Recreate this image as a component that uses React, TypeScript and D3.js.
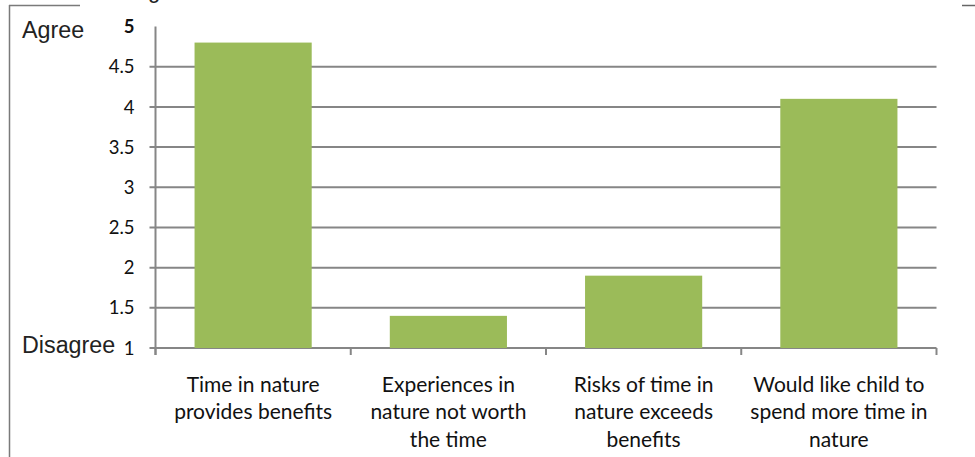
import React from "react";
import * as d3 from "d3";

const categories: string[][] = [
  ["Time in nature", "provides benefits"],
  ["Experiences in", "nature not worth", "the time"],
  ["Risks of time in", "nature exceeds", "benefits"],
  ["Would like child to", "spend more time in", "nature"],
];
const values: number[] = [4.8, 1.4, 1.9, 4.1];
const yTicks: number[] = [1, 1.5, 2, 2.5, 3, 3.5, 4, 4.5, 5];
const yTickLabels: string[] = ["1", "1.5", "2", "2.5", "3", "3.5", "4", "4.5", "5"];
const topLabel = "Agree";
const bottomLabel = "Disagree";

const W = 975;
const H = 457;
const left = 155.5;
const right = 936.5;
const top = 26.5;
const bottom = 348;

export default function App() {
  const keys = categories.map((_, i) => String(i));
  const x = d3.scaleBand<string>().domain(keys).range([left, right]).padding(0);
  const y = d3.scaleLinear().domain([1, 5]).range([bottom, top]);
  const barW = x.bandwidth() * 0.6;
  const grid = "#868686";
  const tickFont = "Lato, 'Open Sans', sans-serif";
  const boundaries = keys.map((k) => x(k)!).concat([right]);

  return (
    <svg
      width={W}
      height={H}
      style={{ position: "absolute", left: 0, top: 0, background: "#fff" }}
    >
      {/* outer frame fragments */}
      <line x1={9.5} x2={9.5} y1={5} y2={H} stroke="#7a7a7a" strokeWidth={1.5} />
      <line x1={9} x2={80} y1={5.5} y2={5.5} stroke="#7a7a7a" strokeWidth={1.5} />
      <line x1={962} x2={975} y1={5.5} y2={5.5} stroke="#666" strokeWidth={1.5} />
      <text x={148} y={-2} fontFamily="'Liberation Sans', Arial, sans-serif" fontSize={22} fill="#222">
        g
      </text>

      {/* gridlines */}
      {yTicks.filter((t) => t !== 5).map((t) => (
        <line
          key={"g" + t}
          x1={left - 6}
          x2={right}
          y1={y(t)}
          y2={y(t)}
          stroke={grid}
          strokeWidth={2}
        />
      ))}

      {/* bars */}
      {values.map((v, i) => (
        <rect
          key={"b" + i}
          x={x(keys[i])! + (x.bandwidth() - barW) / 2}
          y={y(v)}
          width={barW}
          height={y(1) - y(v)}
          fill="#9BBB59"
        />
      ))}

      {/* y axis */}
      <line x1={left} x2={left} y1={y(5)} y2={bottom + 7} stroke={grid} strokeWidth={2} />
      {/* x axis tick marks */}
      {boundaries.map((bx, i) => (
        <line key={"xt" + i} x1={bx} x2={bx} y1={bottom} y2={bottom + 7} stroke={grid} strokeWidth={2} />
      ))}

      {/* y tick labels */}
      {yTicks.map((t, i) => (
        <text
          key={"yl" + t}
          x={134.5}
          y={y(t)}
          dy="0.36em"
          textAnchor="end"
          fontFamily={tickFont}
          fontSize={18.5}
          fontWeight={t === 5 ? 700 : 400}
          fill="#111"
        >
          {yTickLabels[i]}
        </text>
      ))}

      <text x={22} y={37.7} fontFamily="'Liberation Sans', Arial, sans-serif" fontSize={23.3} fill="#222">
        {topLabel}
      </text>
      <text x={22} y={353.3} fontFamily="'Liberation Sans', Arial, sans-serif" fontSize={23.3} fill="#222">
        {bottomLabel}
      </text>

      {/* category labels */}
      {categories.map((lines, i) => (
        <text
          key={"c" + i}
          x={x(keys[i])! + x.bandwidth() / 2}
          textAnchor="middle"
          fontFamily={tickFont}
          fontSize={21}
          fill="#111"
        >
          {lines.map((ln, j) => (
            <tspan key={j} x={x(keys[i])! + x.bandwidth() / 2} y={391.7 + j * 27.5}>
              {ln}
            </tspan>
          ))}
        </text>
      ))}
    </svg>
  );
}
